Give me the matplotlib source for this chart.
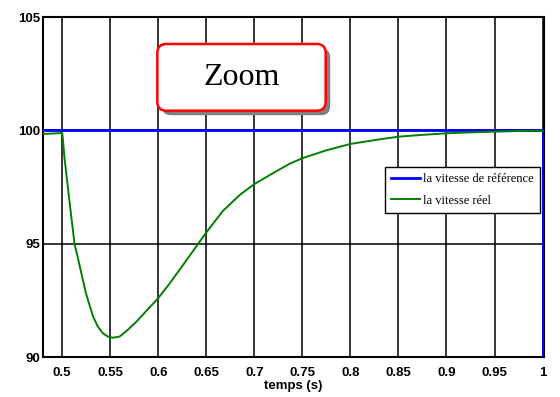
import matplotlib
matplotlib.use('Agg')
import matplotlib.pyplot as plt
from matplotlib.patches import FancyBboxPatch

# vitesse de référence (échelon qui retombe à t = 1 s)
t_ref = [0.48, 1.0, 1.0]
v_ref = [100.0, 100.0, 0.0]

t_reel = [0.48, 0.4995, 0.5, 0.5007, 0.5024, 0.5076, 0.5128, 0.518, 0.5215,
          0.5247, 0.532, 0.537, 0.5423, 0.5475, 0.5527, 0.5597, 0.567, 0.577,
          0.588, 0.6, 0.611, 0.6222, 0.6332, 0.643, 0.65, 0.6674, 0.6848,
          0.7, 0.719, 0.7365, 0.75, 0.775, 0.8, 0.83, 0.85, 0.875, 0.9, 0.925,
          0.95, 0.975, 1.0]
v_reel = [99.84, 99.88, 99.88, 99.6, 98.77, 96.85, 95.0, 94.06, 93.4,
          92.81, 91.8, 91.35, 91.05, 90.9, 90.85, 90.9, 91.15, 91.55,
          92.05, 92.6, 93.2, 93.85, 94.5, 95.08, 95.5, 96.45, 97.15,
          97.63, 98.1, 98.52, 98.77, 99.12, 99.40, 99.60, 99.72, 99.80, 99.87,
          99.91, 99.94, 99.97, 99.98]

x_ticks = [0.5, 0.55, 0.6, 0.65, 0.7, 0.75, 0.8, 0.85, 0.9, 0.95, 1.0]
x_labels = ['0.5', '0.55', '0.6', '0.65', '0.7', '0.75', '0.8', '0.85',
            '0.9', '0.95', '1']
y_ticks = [90, 95, 100, 105]

fig = plt.figure(figsize=(5.6, 3.97), dpi=100)
ax = fig.add_axes([43 / 560, 1 - 357 / 397, 501 / 560, 340 / 397])

ax.plot(t_ref, v_ref, color='#0000ff', lw=2.0, label='la vitesse de référence', zorder=3)
ax.plot(t_reel, v_reel, color='#008000', lw=1.4, label='la vitesse réel', zorder=4)

ax.set_xlim(0.48, 1.0015)
ax.set_ylim(90, 105)
ax.set_xticks(x_ticks)
ax.set_xticklabels(x_labels)
ax.set_yticks(y_ticks)
ax.grid(True, color='black', lw=1.1)
ax.set_axisbelow(True)
for s in ax.spines.values():
    s.set_linewidth(1.5)
ax.tick_params(length=0, labelsize=9.5)
ax.tick_params(axis='x', pad=7)
ax.tick_params(axis='y', pad=2)
for lab in ax.get_xticklabels() + ax.get_yticklabels():
    lab.set_fontfamily('Liberation Sans')
    lab.set_fontweight('bold')
ax.set_xlabel('temps (s)', fontfamily='Liberation Sans', fontweight='bold',
              fontsize=9.5, labelpad=1)

leg = ax.legend(loc='upper left', bbox_to_anchor=(385 / 560, 1 - 167 / 397),
                bbox_transform=fig.transFigure, borderaxespad=0,
                prop={'family': 'Liberation Serif', 'size': 9},
                fancybox=False, edgecolor='black', framealpha=1,
                handlelength=2.3, handletextpad=0.25, labelspacing=0.75,
                borderpad=0.5)
leg.get_frame().set_linewidth(1.0)
leg.set_zorder(10)

# cadre "Zoom" avec ombre portée
x0, y0, w, h = 1.573, 2.863, 1.684, 0.667
shadow = FancyBboxPatch((x0 + 0.045, y0 - 0.045), w, h,
                        boxstyle='round,pad=0,rounding_size=0.09',
                        transform=fig.dpi_scale_trans, fc='#808080', ec='none',
                        clip_on=False, zorder=6)
box = FancyBboxPatch((x0, y0), w, h,
                     boxstyle='round,pad=0,rounding_size=0.09',
                     transform=fig.dpi_scale_trans, fc='white', ec='#ff0000',
                     lw=1.8, clip_on=False, zorder=7)
ax.add_patch(shadow)
ax.add_patch(box)
ax.text(x0 + w / 2, y0 + h / 2, 'Zoom', transform=fig.dpi_scale_trans,
        ha='center', va='center', fontfamily='Liberation Serif', fontsize=23,
        zorder=8)

fig.savefig('out.png', dpi=100)
